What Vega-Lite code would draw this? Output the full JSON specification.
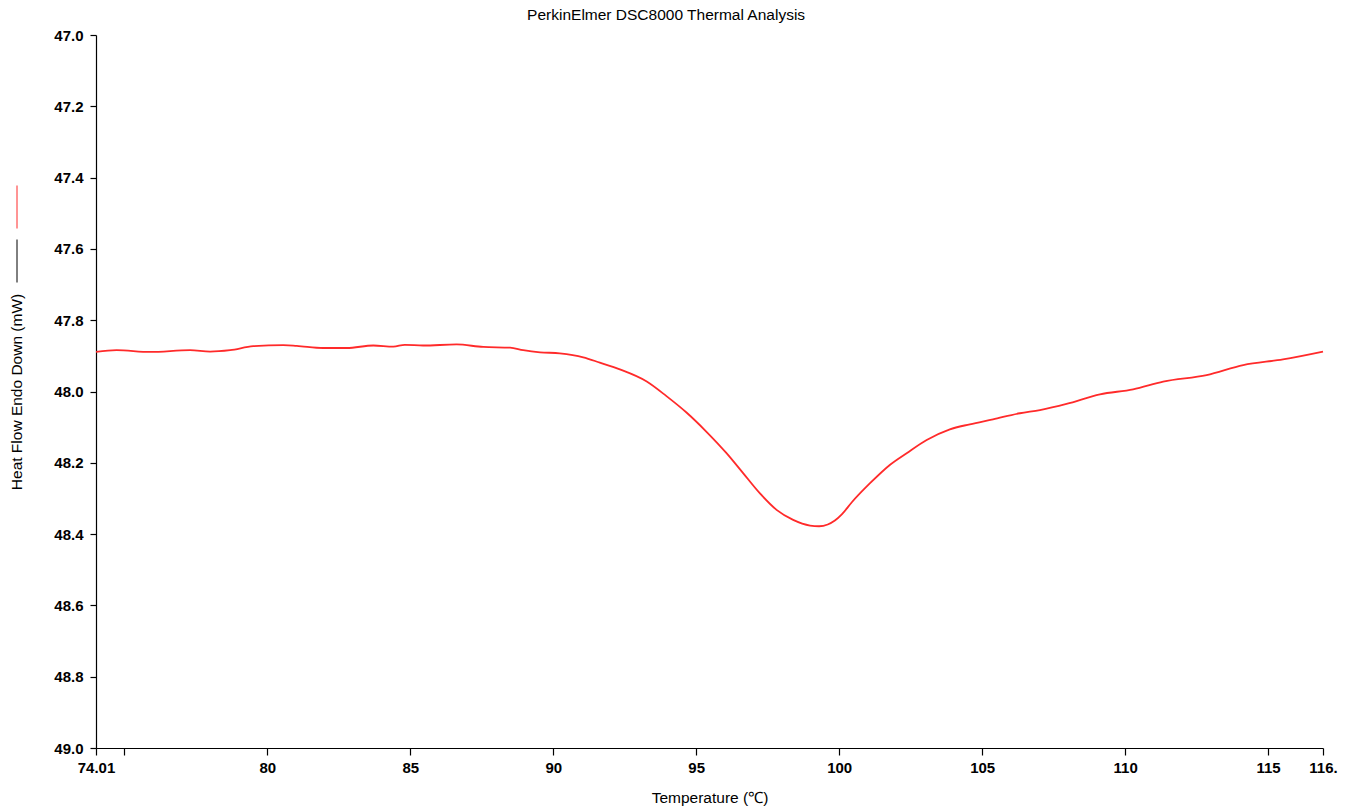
{
  "$schema": "https://vega.github.io/schema/vega-lite/v6.json",
  "autosize": {"type": "none"},
  "width": 1227,
  "height": 713,
  "padding": {"left": 96, "top": 35, "right": 26, "bottom": 62},
  "background": "white",
  "title": {
    "text": "PerkinElmer DSC8000 Thermal Analysis",
    "font": "Liberation Sans",
    "fontSize": 15.5,
    "fontWeight": "normal",
    "color": "#000000",
    "anchor": "middle",
    "frame": "bounds",
    "offset": 5
  },
  "data": {
    "values": [
      {"T": 74.01, "HF": 47.889, "s": "Sample"},
      {"T": 74.73, "HF": 47.884, "s": "Sample"},
      {"T": 75.90, "HF": 47.889, "s": "Sample"},
      {"T": 77.30, "HF": 47.884, "s": "Sample"},
      {"T": 78.00, "HF": 47.888, "s": "Sample"},
      {"T": 78.70, "HF": 47.884, "s": "Sample"},
      {"T": 79.51, "HF": 47.873, "s": "Sample"},
      {"T": 80.56, "HF": 47.870, "s": "Sample"},
      {"T": 81.03, "HF": 47.872, "s": "Sample"},
      {"T": 81.96, "HF": 47.878, "s": "Sample"},
      {"T": 82.78, "HF": 47.878, "s": "Sample"},
      {"T": 83.71, "HF": 47.871, "s": "Sample"},
      {"T": 84.41, "HF": 47.874, "s": "Sample"},
      {"T": 84.81, "HF": 47.869, "s": "Sample"},
      {"T": 85.45, "HF": 47.871, "s": "Sample"},
      {"T": 86.62, "HF": 47.868, "s": "Sample"},
      {"T": 87.55, "HF": 47.875, "s": "Sample"},
      {"T": 88.49, "HF": 47.877, "s": "Sample"},
      {"T": 88.95, "HF": 47.884, "s": "Sample"},
      {"T": 89.54, "HF": 47.890, "s": "Sample"},
      {"T": 90.23, "HF": 47.893, "s": "Sample"},
      {"T": 91.05, "HF": 47.904, "s": "Sample"},
      {"T": 91.63, "HF": 47.919, "s": "Sample"},
      {"T": 92.33, "HF": 47.938, "s": "Sample"},
      {"T": 93.27, "HF": 47.972, "s": "Sample"},
      {"T": 93.96, "HF": 48.013, "s": "Sample"},
      {"T": 94.66, "HF": 48.059, "s": "Sample"},
      {"T": 95.36, "HF": 48.113, "s": "Sample"},
      {"T": 96.06, "HF": 48.173, "s": "Sample"},
      {"T": 96.64, "HF": 48.229, "s": "Sample"},
      {"T": 97.23, "HF": 48.286, "s": "Sample"},
      {"T": 97.81, "HF": 48.332, "s": "Sample"},
      {"T": 98.39, "HF": 48.360, "s": "Sample"},
      {"T": 98.98, "HF": 48.376, "s": "Sample"},
      {"T": 99.30, "HF": 48.378, "s": "Sample"},
      {"T": 99.60, "HF": 48.373, "s": "Sample"},
      {"T": 99.85, "HF": 48.362, "s": "Sample"},
      {"T": 100.10, "HF": 48.344, "s": "Sample"},
      {"T": 100.45, "HF": 48.310, "s": "Sample"},
      {"T": 101.07, "HF": 48.258, "s": "Sample"},
      {"T": 101.77, "HF": 48.206, "s": "Sample"},
      {"T": 102.36, "HF": 48.173, "s": "Sample"},
      {"T": 103.06, "HF": 48.136, "s": "Sample"},
      {"T": 103.87, "HF": 48.106, "s": "Sample"},
      {"T": 104.57, "HF": 48.092, "s": "Sample"},
      {"T": 105.38, "HF": 48.078, "s": "Sample"},
      {"T": 106.32, "HF": 48.061, "s": "Sample"},
      {"T": 107.02, "HF": 48.052, "s": "Sample"},
      {"T": 107.95, "HF": 48.035, "s": "Sample"},
      {"T": 109.12, "HF": 48.008, "s": "Sample"},
      {"T": 110.28, "HF": 47.994, "s": "Sample"},
      {"T": 111.33, "HF": 47.972, "s": "Sample"},
      {"T": 112.85, "HF": 47.954, "s": "Sample"},
      {"T": 114.13, "HF": 47.926, "s": "Sample"},
      {"T": 115.52, "HF": 47.910, "s": "Sample"},
      {"T": 116.92, "HF": 47.888, "s": "Sample"}
    ]
  },
  "mark": {"type": "line", "strokeWidth": 1.8, "interpolate": "monotone"},
  "encoding": {
    "x": {
      "field": "T",
      "type": "quantitative",
      "scale": {"domain": [74.01, 116.92], "nice": false, "zero": false},
      "axis": {
        "title": "Temperature (℃)",
        "values": [74.01, 75, 80, 85, 90, 95, 100, 105, 110, 115, 116.92],
        "labelExpr": "datum.value == 75 ? '' : (datum.value < 75 ? '74.01' : (datum.value > 116 ? '116.' : format(datum.value, 'd')))",
        "labelFlush": false,
        "labelOverlap": false,
        "labelBound": false,
        "grid": false,
        "tickSize": 7,
        "labelPadding": 5,
        "titlePadding": 15
      }
    },
    "y": {
      "field": "HF",
      "type": "quantitative",
      "scale": {"domain": [47, 49], "reverse": true, "nice": false, "zero": false},
      "axis": {
        "title": "Heat Flow Endo Down (mW)",
        "values": [47.0, 47.2, 47.4, 47.6, 47.8, 48.0, 48.2, 48.4, 48.6, 48.8, 49.0],
        "format": ".1f",
        "labelFlush": false,
        "labelOverlap": false,
        "grid": false,
        "tickSize": 6,
        "labelPadding": 7,
        "titlePadding": 29
      }
    },
    "color": {
      "field": "s",
      "type": "nominal",
      "scale": {"domain": ["Sample", "Baseline"], "range": ["#ff2a2a", "#000000"]},
      "legend": {
        "title": null,
        "orient": "none",
        "legendX": -101,
        "legendY": 150,
        "direction": "vertical",
        "padding": 0,
        "symbolType": "M0,-1L0,1",
        "symbolSize": 1849,
        "symbolStrokeWidth": 1,
        "rowPadding": 6,
        "labelExpr": "''",
        "labelOffset": 0
      }
    }
  },
  "config": {
    "view": {"stroke": null},
    "axis": {
      "domainColor": "#000000",
      "domainWidth": 1.2,
      "tickColor": "#000000",
      "tickWidth": 1.2,
      "labelFont": "Liberation Sans",
      "labelFontSize": 15,
      "labelFontWeight": "bold",
      "labelColor": "#000000",
      "titleFont": "Liberation Sans",
      "titleFontSize": 15.5,
      "titleFontWeight": "normal",
      "titleColor": "#000000"
    }
  }
}
